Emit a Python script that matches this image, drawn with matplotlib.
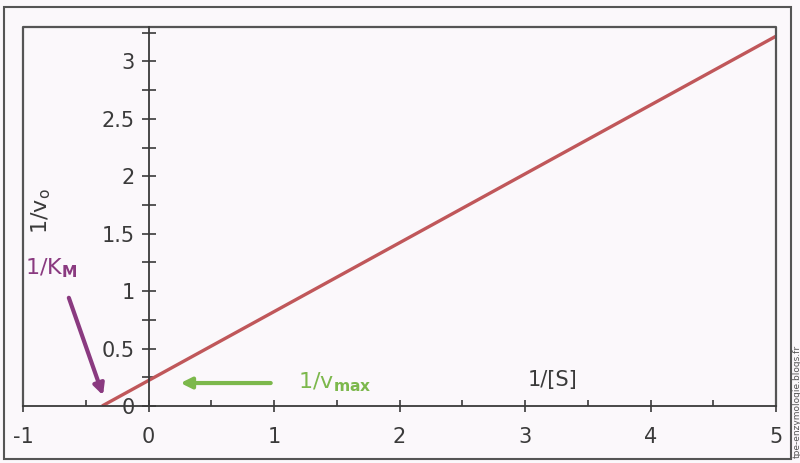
import matplotlib.pyplot as plt
from matplotlib.patches import Rectangle
from matplotlib.ticker import MultipleLocator

# Lineweaver-Burk line (1/[S] vs 1/v0)
inv_s = [-0.37, 5.0]
inv_v = [0.0, 3.22]

x_ticks = [-1, 0, 1, 2, 3, 4, 5]
y_ticks = [0, 0.5, 1, 1.5, 2, 2.5, 3]
y_tick_labels = ['0', '0.5', '1', '1.5', '2', '2.5', '3']

txt = '#3a3a3a'
bg = '#fbf8fb'
line_col = '#c0575a'
purple = '#8a3a80'
green = '#7cb84c'

plt.rcParams['font.family'] = ['DejaVu Sans']

fig = plt.figure(figsize=(8, 4.63), dpi=100, facecolor=bg)
ax = fig.add_axes([23 / 800, 1 - 406 / 463, 753 / 800, 379 / 463], facecolor=bg)

ax.plot(inv_s, inv_v, color=line_col, lw=2.4, solid_capstyle='butt')

ax.set_xlim(-1, 5)
ax.set_ylim(0, 3.3)

# y axis through x = 0, frame drawn separately
for s in ['top', 'right']:
    ax.spines[s].set_visible(False)
ax.spines['left'].set_position(('data', 0))
ax.spines['left'].set_color(txt)
ax.spines['bottom'].set_color(txt)
ax.spines['left'].set_linewidth(1.3)
ax.spines['bottom'].set_linewidth(1.3)
ax.plot([0, 0, 1, 1], [0, 1, 1, 0], transform=ax.transAxes, color='#555555',
        lw=1.6, clip_on=False)

ax.set_xticks(x_ticks)
ax.set_xticklabels([str(v) for v in x_ticks])
ax.set_yticks(y_ticks)
ax.set_yticklabels(y_tick_labels)
ax.xaxis.set_minor_locator(MultipleLocator(0.5))
ax.yaxis.set_minor_locator(MultipleLocator(0.25))
ax.tick_params(axis='y', which='both', direction='inout', length=10, width=1.2,
               color=txt, labelsize=15, labelcolor=txt, pad=5)
ax.tick_params(axis='x', which='major', direction='inout', length=8, width=1.2,
               color=txt, labelsize=15, labelcolor=txt, pad=11)
ax.tick_params(axis='x', which='minor', direction='in', length=4, width=1.2, color=txt)

ax.text(-0.857, 1.70, '1/v$_{\\mathregular{o}}$', rotation=90, ha='center', va='center',
        fontsize=16, color=txt)
ax.text(-0.985, 1.20, '1/K$_{\\mathbf{M}}$', ha='left', va='center',
        fontsize=16, color=purple)
ax.annotate('', xy=(-0.355, 0.07), xytext=(-0.642, 0.965),
            arrowprops=dict(arrowstyle='-|>', color=purple, lw=3, mutation_scale=16))
ax.annotate('', xy=(0.233, 0.2), xytext=(0.996, 0.2),
            arrowprops=dict(arrowstyle='-|>', color=green, lw=3, mutation_scale=16))
ax.text(1.195, 0.21, '1/v$_{\\mathbf{max}}$', ha='left', va='center',
        fontsize=16, color=green)
ax.text(3.02, 0.23, '1/[S]', ha='left', va='center', fontsize=15, color=txt)

# outer border of the scanned figure
fig.patches.append(Rectangle((4 / 800, 1 - 459 / 463), 787 / 800, 452 / 463,
                             transform=fig.transFigure, fill=False,
                             edgecolor='#555555', lw=1.5))
fig.text(0.996, 0.01, 'tpe-enzymologie.blogs.fr', rotation=90, ha='center',
         va='bottom', fontsize=6.5, color='#555555')

fig.savefig('out.png', dpi=100, facecolor=bg)
